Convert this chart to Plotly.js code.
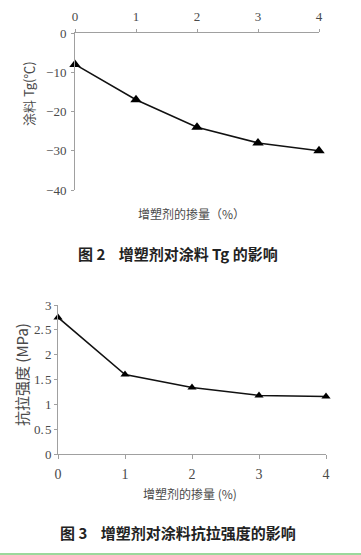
<!DOCTYPE html>
<html>
<head>
<meta charset="utf-8">
<script src="https://cdn.plot.ly/plotly-3.0.1.min.js"></script>
<style>html,body{margin:0;padding:0;background:#fff;}#chart{width:361px;height:555px;}</style>
</head>
<body>
<div id="chart"></div>
<script>
// Figure 2: plasticizer dosage vs coating Tg
const dosage = [0, 1, 2, 3, 4];
const tgValues = [-8, -17, -24, -28, -30];
const tgTicks = [0, -10, -20, -30, -40];
const tgTickText = ['0', '−10', '−20', '−30', '−40'];
// Figure 3: plasticizer dosage vs tensile strength
const tensileValues = [2.75, 1.6, 1.34, 1.18, 1.16];
const tensileTicks = [0, 0.5, 1, 1.5, 2, 2.5, 3];
const tensileTickText = ['0', '0.\u200A5', '1', '1.\u200A5', '2', '2.\u200A5', '3'];

const W = 361, H = 555;
const px = v => v / W;
const py = v => 1 - v / H;
const serif = '"Liberation Serif", "Noto Sans CJK SC", serif';
const cjk = '"Noto Sans CJK SC", "Liberation Serif", sans-serif';
const axisCol = '#a0a0a0';
const textCol = '#4a4a4a';

const traces = [
  {x: dosage, y: tgValues, xaxis: 'x', yaxis: 'y', type: 'scatter', mode: 'lines+markers',
   line: {color: '#111', width: 1.5}, marker: {symbol: 'triangle-up', size: 10, color: '#000'},
   cliponaxis: false, hoverinfo: 'skip'},
  {x: dosage, y: tensileValues, xaxis: 'x2', yaxis: 'y2', type: 'scatter', mode: 'lines+markers',
   line: {color: '#111', width: 1.5}, marker: {symbol: 'triangle-up', size: 8, color: '#000'},
   cliponaxis: false, hoverinfo: 'skip'}
];

const axBase = {showgrid: false, zeroline: false, showline: true, linecolor: axisCol, linewidth: 1,
  ticks: 'outside', tickcolor: axisCol, ticklen: 4, tickfont: {family: serif, size: 12, color: textCol}};

const layout = {
  width: W, height: H, margin: {l: 0, r: 0, t: 0, b: 0},
  paper_bgcolor: '#fff', plot_bgcolor: '#fff', showlegend: false,
  xaxis: Object.assign({}, axBase, {domain: [px(75), px(319)], range: [0, 4], side: 'top', anchor: 'y',
    tickvals: dosage, ticklen: 3, ticklabelstandoff: 3, tickfont: {family: serif, size: 13, color: textCol}}),
  yaxis: Object.assign({}, axBase, {domain: [py(190), py(33)], range: [-40, 0], anchor: 'x',
    tickvals: tgTicks, ticktext: tgTickText, ticklen: 3, ticklabelstandoff: 2, tickfont: {family: serif, size: 13, color: textCol}}),
  xaxis2: Object.assign({}, axBase, {domain: [px(58), px(326)], range: [0, 4], anchor: 'y2',
    tickvals: dosage, ticklabelstandoff: 3, tickfont: {family: serif, size: 14, color: textCol}}),
  yaxis2: Object.assign({}, axBase, {domain: [py(454), py(305)], range: [0, 3], anchor: 'x2',
    tickvals: tensileTicks, ticktext: tensileTickText, ticklen: 3, tickfont: {family: serif, size: 13, color: textCol}}),
  annotations: [
    {text: '涂料 Tg(℃)', xref: 'paper', yref: 'paper', x: px(28), y: py(93), textangle: -90,
     showarrow: false, font: {family: cjk, size: 13, color: textCol}, xanchor: 'center', yanchor: 'middle'},
    {text: '增塑剂的掺量（%）', xref: 'paper', yref: 'paper', x: px(191), y: py(213),
     showarrow: false, font: {family: cjk, size: 12, color: textCol}, xanchor: 'center', yanchor: 'middle'},
    {text: '<b>图 2</b>    <b>增塑剂对涂料 Tg 的影响</b>', xref: 'paper', yref: 'paper', x: px(178), y: py(253),
     showarrow: false, font: {family: cjk, size: 15, color: '#222'}, xanchor: 'center', yanchor: 'middle'},
    {text: '抗拉强度 (MPa)', xref: 'paper', yref: 'paper', x: px(21), y: py(375), textangle: -90,
     showarrow: false, font: {family: cjk, size: 15, color: textCol}, xanchor: 'center', yanchor: 'middle'},
    {text: '增塑剂的掺量 (%)', xref: 'paper', yref: 'paper', x: px(190), y: py(493),
     showarrow: false, font: {family: cjk, size: 12, color: textCol}, xanchor: 'center', yanchor: 'middle'},
    {text: '<b>图 3</b>    <b>增塑剂对涂料抗拉强度的影响</b>', xref: 'paper', yref: 'paper', x: px(178), y: py(532),
     showarrow: false, font: {family: cjk, size: 15, color: '#222'}, xanchor: 'center', yanchor: 'middle'}
  ],
  shapes: [
    {type: 'line', xref: 'paper', yref: 'paper', x0: 0, x1: 1, y0: py(554), y1: py(554),
     line: {color: '#9bd89b', width: 2}}
  ]
};

Plotly.newPlot('chart', traces, layout, {staticPlot: true, displayModeBar: false});
</script>
</body>
</html>
